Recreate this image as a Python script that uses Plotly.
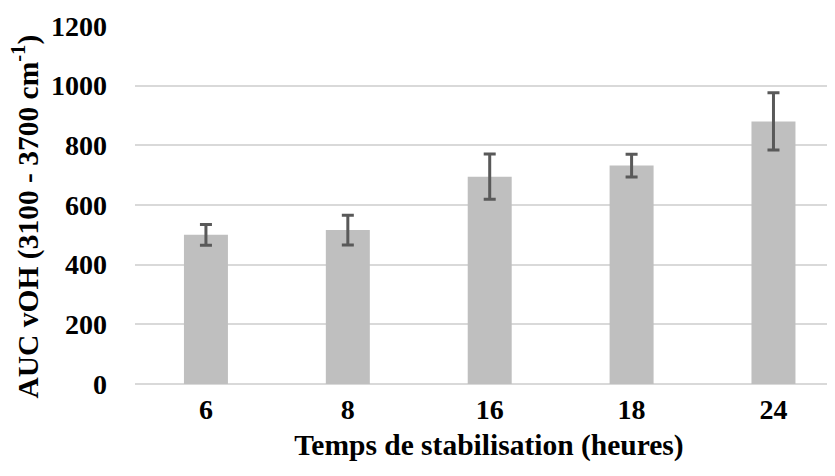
import plotly.graph_objects as go

categories = ["6", "8", "16", "18", "24"]
values = [500, 516, 695, 732, 880]
errors = [35, 50, 76, 38, 96]
y_ticks = [0, 200, 400, 600, 800, 1000, 1200]

font_family = "Liberation Serif, Times New Roman, serif"
fs = 28
fs_title = 29.5

fig = go.Figure()
fig.add_trace(go.Bar(
    x=categories,
    y=values,
    width=0.31,
    marker=dict(color="#BFBFBF", line=dict(width=0)),
    error_y=dict(type="data", array=errors, visible=True,
                 color="#595959", thickness=3, width=6),
))

fig.add_annotation(
    text="<b>AUC vOH (3100 - 3700 cm<sup>-1</sup>)</b>",
    textangle=-90,
    xref="paper", yref="paper", x=0, y=0.5,
    xanchor="center", yanchor="middle",
    xshift=-109.5, yshift=-12,
    showarrow=False,
    font=dict(family=font_family, size=fs_title, color="black"),
)

fig.update_layout(
    width=835, height=476,
    margin=dict(l=126.5, r=0, t=18, b=100),
    paper_bgcolor="white", plot_bgcolor="white",
    showlegend=False,
    font=dict(family=font_family, size=fs, color="black"),
    xaxis=dict(
        type="category",
        range=[-0.5, 4.49],
        automargin=False,
        showgrid=False, zeroline=False,
        showline=False,
        ticks="",
        ticklabelstandoff=6,
        tickfont=dict(family=font_family, size=fs, color="black", weight="bold"),
        title=dict(text="<b>Temps de stabilisation (heures)</b>",
                   font=dict(family=font_family, size=fs_title, color="black"),
                   standoff=10),
    ),
    yaxis=dict(
        range=[0, 1200],
        automargin=False,
        tickvals=y_ticks,
        ticktext=[str(v) for v in y_ticks],
        showgrid=True, gridcolor="#D9D9D9", gridwidth=1.5,
        zeroline=True, zerolinecolor="#D9D9D9", zerolinewidth=1.5,
        showline=False,
        ticks="",
        ticklabelstandoff=27,
        tickfont=dict(family=font_family, size=fs, color="black", weight="bold"),
    ),
)

fig.write_html("out.html")
